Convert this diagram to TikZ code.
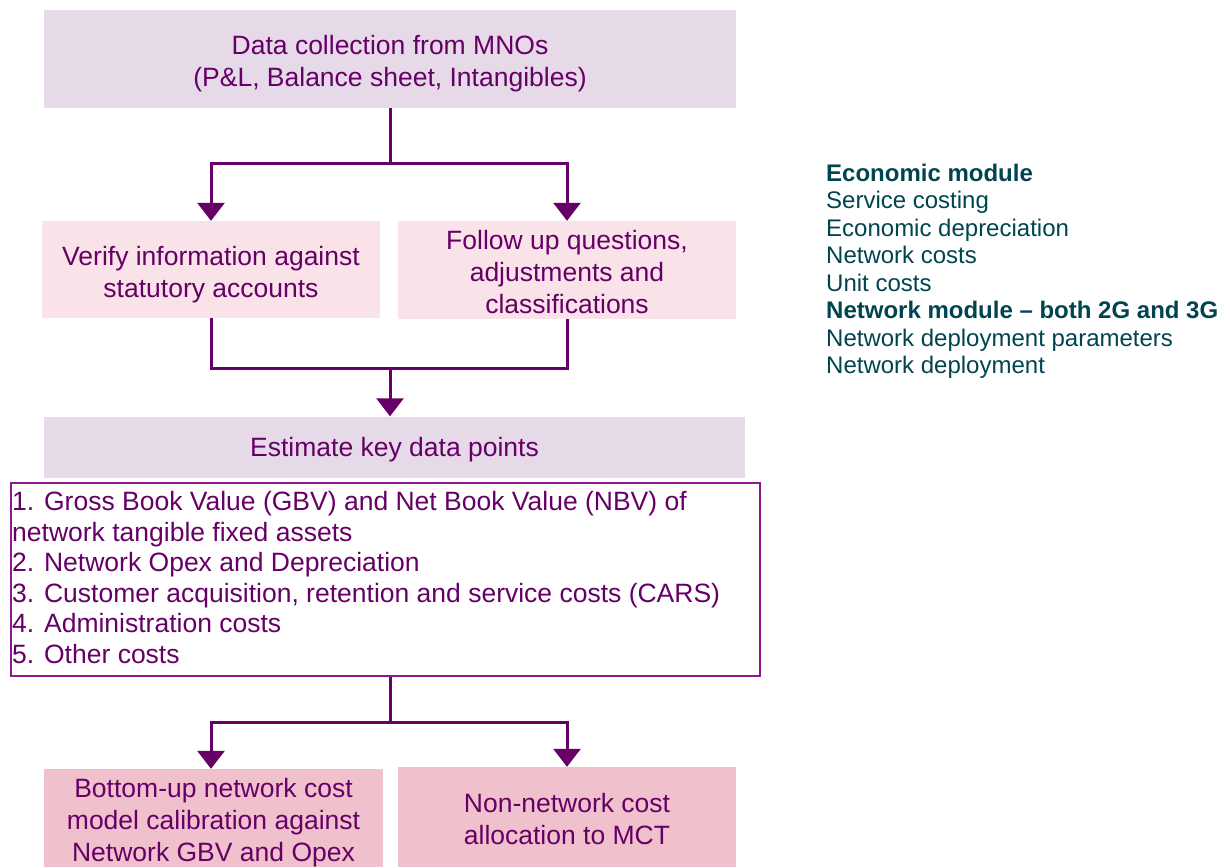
\documentclass[tikz,border=0pt]{standalone}
\usepackage{fontspec}
\setmainfont{Liberation Sans}
\usetikzlibrary{arrows.meta}

\definecolor{plum}{HTML}{660066}
\definecolor{plumline}{HTML}{660066}
\definecolor{listedge}{HTML}{8E168E}
\definecolor{lilac}{HTML}{E6D9E8}
\definecolor{blush}{HTML}{F9E3E9}
\definecolor{rose}{HTML}{F0C1CC}
\definecolor{teal}{HTML}{004450}

\tikzset{
  stage/.style={rectangle, draw=none, inner sep=0pt, align=center,
    text=plum, font=\fontsize{26.5}{32}\selectfont},
  flow/.style={draw=plumline, line width=3pt},
  flowarr/.style={flow, -{Triangle[width=27pt,length=18pt]}},
  legend/.style={anchor=base west, inner sep=0pt, text=teal,
    font=\fontsize{24}{27}\selectfont},
}

\begin{document}
\begin{tikzpicture}[x=1pt, y=-1pt]
\useasboundingbox (0,0) rectangle (1230,867);

% boxes of the process
\node[stage, fill=lilac, minimum width=692pt, minimum height=98pt] (collect) at (390,59) {};
\node[stage, fill=blush, minimum width=338pt, minimum height=97pt] (verify) at (211,269.5) {};
\node[stage, fill=blush, minimum width=338pt, minimum height=98pt] (follow) at (567,270) {};
\node[stage, fill=lilac, minimum width=701pt, minimum height=61pt] (estimate) at (394.5,447) {};
\node[rectangle, draw=listedge, line width=1.6pt, minimum width=749pt, minimum height=193pt,
  inner sep=0pt] (points) at (385.5,579.5) {};
\node[stage, fill=rose, minimum width=339pt, minimum height=98pt] (bottomup) at (213.5,818) {};
\node[stage, fill=rose, minimum width=338pt, minimum height=100pt] (nonnet) at (567,817) {};

% box captions (canvas yshift: negative moves down)
\node[stage] (collecttext) at ([yshift=-5pt]collect.center)
  {Data collection from MNOs\\(P\&L, Balance sheet, Intangibles)};
\node[stage] (verifytext) at ([yshift=-5pt]verify.center)
  {Verify information against\\statutory accounts};
\node[stage] (followtext) at ([yshift=-2pt]follow.center)
  {Follow up questions,\\adjustments and\\classifications};
\node[stage] (estimatetext) at ([yshift=-3pt]estimate.center) {Estimate key data points};
\node[anchor=north west, inner sep=0pt, align=left, text=plum,
  font=\fontsize{26.5}{30.6}\selectfont] (pointtext) at (12,491)
  {1. Gross Book Value (GBV) and Net Book Value (NBV) of\\
   network tangible fixed assets\\
   2. Network Opex and Depreciation\\
   3. Customer acquisition, retention and service costs (CARS)\\
   4. Administration costs\\
   5. Other costs};
\node[stage] (bottomuptext) at ([yshift=-5pt]bottomup.center)
  {Bottom-up network cost\\model calibration against\\Network GBV and Opex};
\node[stage] (nonnettext) at ([yshift=-2pt]nonnet.center)
  {Non-network cost\\allocation to MCT};

% connectors
\coordinate (split1) at (390,163);
\coordinate (join1) at (390,368);
\coordinate (split2) at (390,722);
\draw[flow] (collect.south -| split1) -- (split1);
\draw[flowarr] (split1) -| (verify.north);
\draw[flowarr] (split1) -| (follow.north);
\draw[flow] (verify.south) |- (join1) -| (follow.south);
\draw[flowarr] (join1) -- (join1 |- estimate.north);
\draw[flow] (points.south -| split2) -- (split2);
\draw[flowarr] (split2) -| ([xshift=-2.5pt]bottomup.north);
\draw[flowarr] (split2) -| (nonnet.north);

% module list
\node[legend, font=\fontsize{24}{27}\selectfont\bfseries] (econ) at (826,181) {Economic module};
\node[legend] (svc) at (826,208.5) {Service costing};
\node[legend] (dep) at (826,236) {Economic depreciation};
\node[legend] (ncost) at (826,263.5) {Network costs};
\node[legend] (ucost) at (826,291) {Unit costs};
\node[legend, font=\fontsize{24}{27}\selectfont\bfseries] (netmod) at (826,318.5) {Network module – both 2G and 3G};
\node[legend] (params) at (826,346) {Network deployment parameters};
\node[legend] (deploy) at (826,373.5) {Network deployment};
\end{tikzpicture}
\end{document}
